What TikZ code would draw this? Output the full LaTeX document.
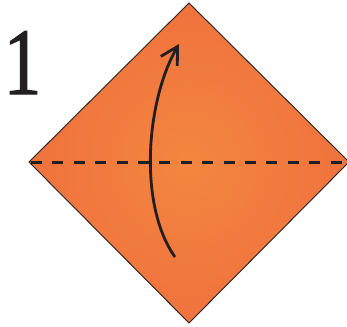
\documentclass[tikz,border=0pt]{standalone}
\usepackage{fontspec}
\setmainfont{Liberation Serif}
\newfontfamily\numfont[FakeBold=1.3]{Liberation Serif}
\usetikzlibrary{arrows.meta}
\definecolor{pcenter}{RGB}{243,134,64}
\definecolor{pedge}{RGB}{237,94,58}
\definecolor{inkc}{RGB}{35,31,32}
\pgfdeclareradialshading{paper}{\pgfpoint{0bp}{0bp}}{color(0bp)=(pcenter); color(50bp)=(pedge)}
\tikzset{
  paperfill/.style={shading=paper, draw=inkc, line width=0.9pt, line join=miter},
  foldline/.style={draw=inkc, line width=3pt, dash pattern=on 11pt off 10.4pt},
  movearrow/.style={draw=inkc, line width=2.8pt, -{Straight Barb[length=17pt,width=19pt,line width=2.8pt]}},
  steplabel/.style={inner sep=0pt, anchor=base, xscale=0.8, font=\numfont\fontsize{95}{95}\selectfont, text=inkc}
}
\begin{document}
\begin{tikzpicture}[x=1pt,y=-1pt]
\useasboundingbox (0,0) rectangle (347,326);
\coordinate (T) at (189,3);
\coordinate (R) at (349,162);
\coordinate (B) at (189,323);
\coordinate (L) at (29,162);
\path[paperfill] (T) -- (R) -- (B) -- (L) -- cycle;
\coordinate (dl) at (31,162);
\coordinate (dr) at (346,162);
\draw[foldline] (dl) -- (dr);
\coordinate (as) at (175,257);
\coordinate (ae) at (179,44);
\draw[movearrow] (as) .. controls (138,205) and (146,101) .. (ae);
\node[steplabel] (num) at (22.5,94) {1};
\end{tikzpicture}
\end{document}
